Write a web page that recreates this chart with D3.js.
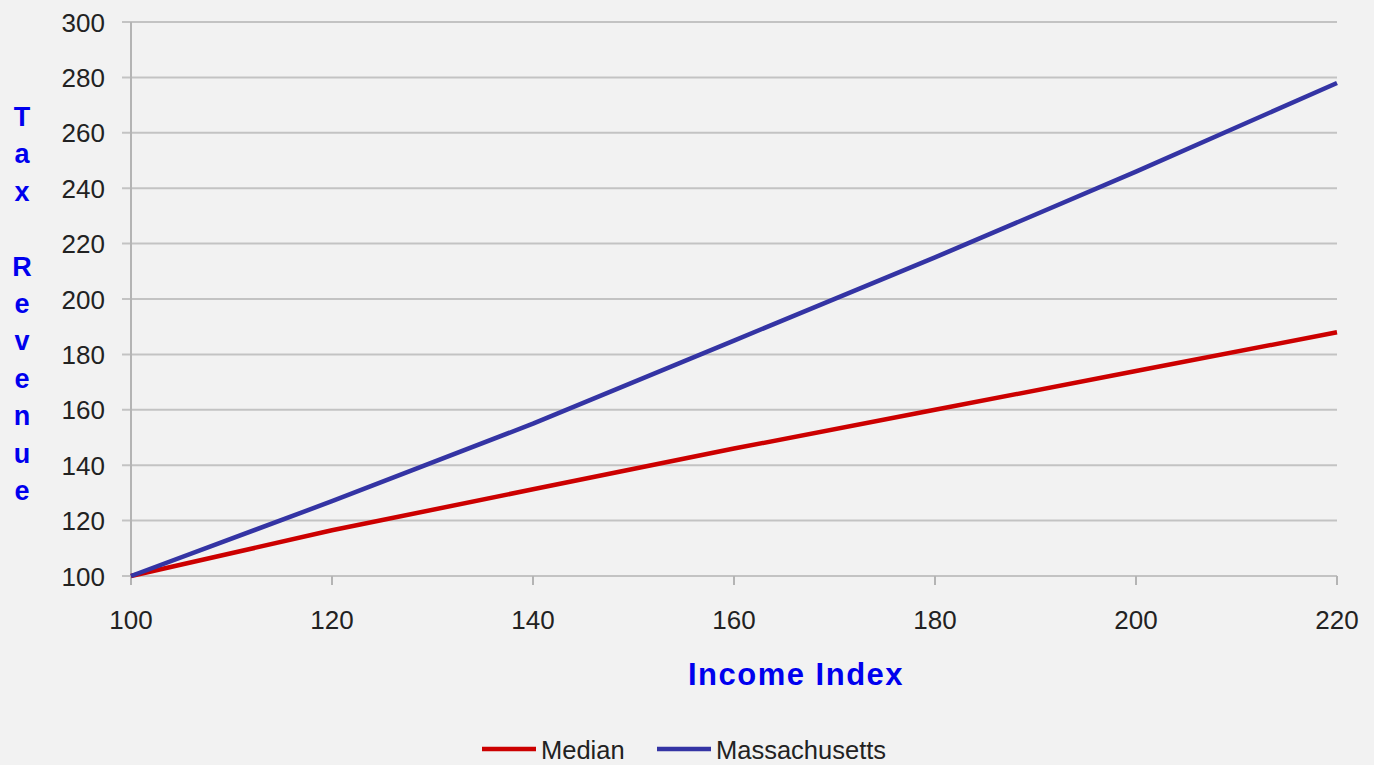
<!DOCTYPE html>
<html><head><meta charset="utf-8">
<script src="https://cdn.jsdelivr.net/npm/d3@7"></script>
<style>
html,body{margin:0;padding:0;background:#f2f2f2;}
svg{display:block;}
</style></head>
<body>
<script>
const incomeIndex = [100, 120, 140, 160, 180, 200, 220];
const medianRevenue = [100, 116.5, 131.3, 146, 160, 174, 188];
const massRevenue = [100, 127, 155, 185, 215, 246, 278];
const xTicks = [100, 120, 140, 160, 180, 200, 220];
const yTicks = [100, 120, 140, 160, 180, 200, 220, 240, 260, 280, 300];
const seriesNames = ["Median", "Massachusetts"];
const seriesColors = ["#cc0000", "#3434a4"];
const yTitleLetters = ["T","a","x","","R","e","v","e","n","u","e"];

const W = 1374, H = 765;
const svg = d3.select("body").append("svg").attr("width", W).attr("height", H);
svg.append("rect").attr("width", W).attr("height", H).attr("fill", "#f2f2f2");

const x = d3.scaleLinear().domain([100, 220]).range([131, 1337]);
const y = d3.scaleLinear().domain([100, 300]).range([576, 22]);

// gridlines
svg.append("g").selectAll("line").data(yTicks).join("line")
  .attr("x1", 122).attr("x2", x(220))
  .attr("y1", d => y(d)).attr("y2", d => y(d))
  .attr("stroke", "#c3c3c3").attr("stroke-width", 2);

// vertical axis line
svg.append("line").attr("x1", x(100)).attr("x2", x(100)).attr("y1", y(300)).attr("y2", y(100) + 9)
  .attr("stroke", "#b4b4b4").attr("stroke-width", 2);
// x ticks
svg.append("g").selectAll("line").data(xTicks.slice(1)).join("line")
  .attr("x1", d => x(d)).attr("x2", d => x(d)).attr("y1", y(100)).attr("y2", y(100) + 9)
  .attr("stroke", "#b4b4b4").attr("stroke-width", 2);

// y tick labels
svg.append("g").selectAll("text").data(yTicks).join("text")
  .attr("x", 105).attr("y", d => y(d) + 9.5)
  .attr("text-anchor", "end")
  .attr("font-family", "Liberation Sans, Arial, sans-serif").attr("font-size", 26)
  .attr("fill", "#222").text(d => d);

// x tick labels
svg.append("g").selectAll("text").data(xTicks).join("text")
  .attr("x", d => x(d)).attr("y", 629)
  .attr("text-anchor", "middle")
  .attr("font-family", "Liberation Sans, Arial, sans-serif").attr("font-size", 26)
  .attr("fill", "#222").text(d => d);

// lines
const seriesData = [medianRevenue, massRevenue];
const line = d3.line().x((d, i) => x(incomeIndex[i])).y(d => y(d));
seriesData.forEach((vals, k) => {
  svg.append("path").datum(vals).attr("d", line)
    .attr("fill", "none").attr("stroke", seriesColors[k]).attr("stroke-width", 4.5)
    .attr("stroke-linejoin", "round");
});

// x axis title
svg.append("text").attr("x", 796).attr("y", 685).attr("text-anchor", "middle")
  .attr("font-family", "Liberation Sans, Arial, sans-serif").attr("font-weight", "bold")
  .attr("font-size", 31).attr("letter-spacing", 1.5).attr("fill", "#0000ee").text("Income Index");

// y axis title (stacked letters)
svg.append("g").selectAll("text").data(yTitleLetters).join("text")
  .attr("x", 22).attr("y", (d, i) => 126 + i * 37.4)
  .attr("text-anchor", "middle")
  .attr("font-family", "Liberation Sans, Arial, sans-serif").attr("font-weight", "bold")
  .attr("font-size", 27).attr("fill", "#0000ee").text(d => d);

// legend
const legendX = [482, 657];
const lg = svg.append("g");
seriesNames.forEach((name, k) => {
  lg.append("line").attr("x1", legendX[k]).attr("x2", legendX[k] + 54)
    .attr("y1", 749).attr("y2", 749).attr("stroke", seriesColors[k]).attr("stroke-width", 4.5);
  lg.append("text").attr("x", legendX[k] + 59).attr("y", 759)
    .attr("font-family", "Liberation Sans, Arial, sans-serif").attr("font-size", 25.5)
    .attr("fill", "#222").text(name);
});
</script>
</body></html>
